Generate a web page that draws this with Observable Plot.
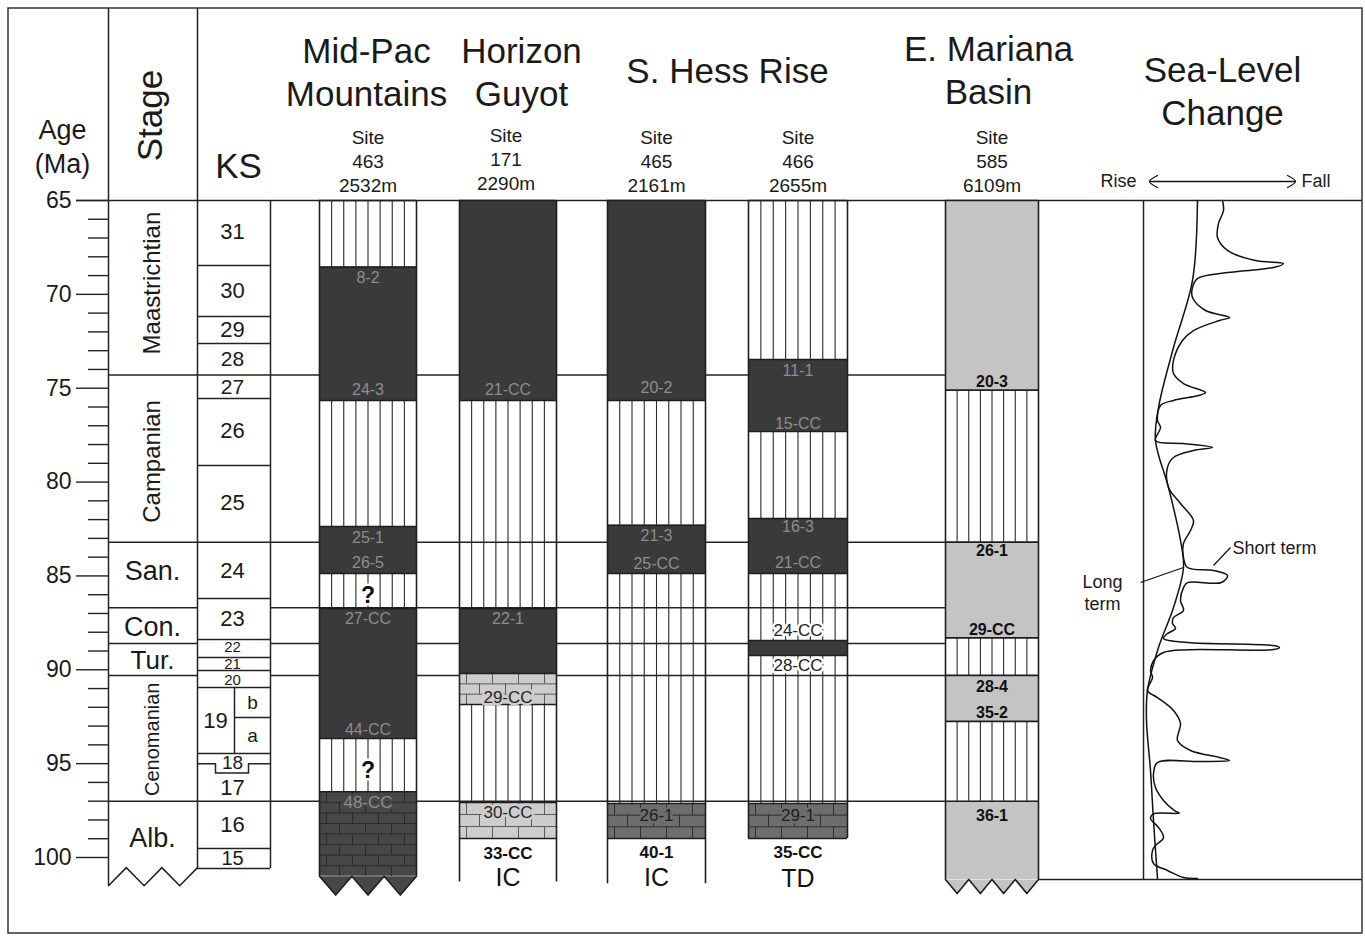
<!DOCTYPE html>
<html><head><meta charset="utf-8">
<script src="https://cdn.jsdelivr.net/npm/d3@7"></script>
<script src="https://cdn.jsdelivr.net/npm/@observablehq/plot@0.6"></script>
<style>
html,body{margin:0;padding:0;background:#fff;}
#chart svg{display:block;}
</style></head>
<body><div id="chart"></div>
<script>
// ================= DATA =================
const ageMajorTicks = [65, 70, 75, 80, 85, 90, 95, 100];
const ageMinorTicks = d3.range(65, 101, 1).filter(a => a % 5 !== 0);

// Stages
const stageNames = ["Maastrichtian", "Campanian", "San.", "Con.", "Tur.", "Cenomanian", "Alb."];
const stageTop   = [65, 74.3, 83.2, 86.7, 88.6, 90.3, 97.0];
const stageLabelAge = [69.4, 78.9, 84.75, 87.75, 89.5, 93.7, 99.0];
const stageRotated  = [true, true, false, false, false, true, false];
const stageFontSize = [24, 24, 27, 27, 26, 20, 27];

// KS nannofossil zones
const ksZones = ["31","30","29","28","27","26","25","24","23","22","21","20","19","18","17","16","15"];
const ksTop   = [65, 68.46, 71.18, 72.62, 74.3, 75.55, 79.12, 83.2, 86.2, 88.39, 89.35, 90.04, 90.94, 94.46, 95.0, 97.0, 99.52];
const ksBase  = 100.59;
const ksLabelAge = [66.7, 69.8, 71.9, 73.45, 74.95, 77.3, 81.1, 84.75, 87.3, 88.8, 89.68, 90.56, 92.7, 94.98, 96.3, 98.25, 100.05];
const ksFont  = [22, 22, 22, 21, 21, 22, 22, 22, 22, 15, 15, 15, 22, 19, 22, 22, 20];
const ks19Sub = ["b", "a"];
const ks19SubTop = [90.94, 92.54];
const ks19SubBase = [92.54, 94.46];
const ks18NotchBase = 95.5;

// Sites
const sites = ["463", "171", "465", "466", "585"];
const siteDepth = ["2532m", "2290m", "2161m", "2655m", "6109m"];
const regionNames = ["Mid-Pac\nMountains", "Horizon\nGuyot", "S. Hess Rise", "E. Mariana\nBasin"];

// Lithologic units: [top age, base age, lithology]
const site463 = [[65, 68.55, "chalk"], [68.55, 75.65, "dark"], [75.65, 82.37, "chalk"], [82.37, 84.87, "dark"],
                 [84.87, 86.74, "chalk"], [86.74, 93.66, "dark"], [93.66, 96.5, "chalk"], [96.5, 101.0, "blackLime"]];
const site171 = [[65, 75.65, "dark"], [75.65, 86.74, "chalk"], [86.74, 90.2, "dark"], [90.2, 91.85, "lime"],
                 [91.85, 97.07, "chalk"], [97.07, 98.99, "lime"], [98.99, 101.3, "hole"]];
const site465 = [[65, 75.65, "dark"], [75.65, 82.3, "chalk"], [82.3, 84.87, "dark"], [84.87, 97.12, "chalk"],
                 [97.12, 98.99, "darkLime"], [98.99, 101.4, "hole"]];
const site466 = [[65, 73.47, "chalk"], [73.47, 77.3, "dark"], [77.3, 81.94, "chalk"], [81.94, 84.87, "dark"],
                 [84.87, 88.44, "chalk"], [88.44, 89.24, "dark"], [89.24, 97.12, "chalk"], [97.12, 98.99, "darkLime"]];
const site585 = [[65, 75.1, "gray"], [75.1, 83.2, "chalk"], [83.2, 88.3, "gray"], [88.3, 90.3, "chalk"],
                 [90.3, 92.75, "gray"], [92.75, 97.0, "chalk"], [97.0, 101.17, "gray"]];

// Sample labels: [age, text, style]
const labels463 = [[69.1, "8-2", "dk"], [75.1, "24-3", "dk"], [82.95, "25-1", "dk"], [84.3, "26-5", "dk"], [86.05, "?", "q"],
                   [87.27, "27-CC", "dk"], [93.18, "44-CC", "dk"], [95.37, "?", "q"], [97.07, "48-CC", "bl"]];
const labels171 = [[75.1, "21-CC", "dk"], [87.27, "22-1", "dk"], [91.5, "29-CC", "ll"], [97.6, "30-CC", "ll"],
                   [99.8, "33-CC", "b"], [101.1, "IC", "big"]];
const labels465 = [[75.0, "20-2", "dk"], [82.85, "21-3", "dk"], [84.34, "25-CC", "dk"], [97.76, "26-1", "dl"],
                   [99.75, "40-1", "b"], [101.1, "IC", "big"]];
const labels466 = [[74.06, "11-1", "dk"], [76.9, "15-CC", "dk"], [82.4, "16-3", "dk"], [84.3, "21-CC", "dk"],
                   [87.9, "24-CC", "w"], [89.77, "28-CC", "w"], [97.76, "29-1", "dl"], [99.75, "35-CC", "b"], [101.15, "TD", "big"]];
const labels585 = [[74.65, "20-3", "g"], [83.65, "26-1", "g"], [87.9, "29-CC", "g"], [90.9, "28-4", "g"],
                   [92.3, "35-2", "g"], [97.76, "36-1", "g"]];

// Sea-level change curves: [age (Ma), fall amount (relative units)]
const shortTerm = [[65.00,79],[65.53,80],[66.23,75],[66.97,74],[67.66,84],[68.20,112],[68.36,140],[68.57,130],[68.84,84],
  [69.16,54],[69.63,49],[70.17,49],[70.86,62],[71.23,86],[71.39,76],[71.93,50],[72.46,39],[73.52,30],[74.22,30],
  [74.75,40],[75.23,62],[75.39,55],[75.65,30],[75.92,17],[76.72,14],[77.09,17],[77.79,12],[77.95,40],[78.16,69],
  [78.32,50],[78.69,30],[79.22,24],[80.29,25],[81.14,37],[82.05,50],[82.58,47],[83.27,40],[84.02,40],[84.55,44],
  [84.71,70],[84.98,84],[85.35,78],[85.36,44],[85.62,40],[86.31,37],[86.84,40],[87.22,30],[87.53,29],[87.80,32],
  [88.07,24],[88.33,20],[88.55,44],[88.71,130],[88.81,136],[88.92,130],[88.93,44],[89.08,20],[89.51,10],[90.04,7],
  [90.41,9],[91.10,4],[91.48,14],[92.17,30],[92.86,37],[93.77,34],[94.30,47],[94.67,76],[94.83,86],[94.89,57],
  [94.94,14],[95.53,10],[96.27,12],[96.96,20],[97.50,31],[97.64,36],[97.68,10],[97.92,7],[98.40,15],[98.94,20],
  [99.36,12],[99.63,9],[100.32,10],[100.69,24],[101.07,40],[101.12,54]];
const longTerm = [[65.0,54],[69.26,49],[72.83,30],[76.03,15],[77.79,12],[80.29,25],[83.11,37],[84.55,40],
  [86.68,30],[88.81,15],[91.10,4],[92.70,3],[95.37,7],[98.03,10],[101.12,14]];

// ================= LAYOUT (pixels) =================
const K = (857 - 200) / 35;                // px per Ma
const py = p => 65 + (p - 200) / K;        // pixel row -> age value on y scale
const FONT = "'Liberation Sans', Arial, Helvetica, sans-serif";
const frame = {x1: 8, x2: 1362, top: 8, bottom: 933};
const stageX = [108, 197], ksX = [197, 270], ksSubX = 234, ksNotchX = [215, 248];
const colX = {"463": [319, 416], "171": [459, 556], "465": [607, 705], "466": [748, 847], "585": [945, 1038]};
const siteUnits = {"463": site463, "171": site171, "465": site465, "466": site466, "585": site585};
const siteLabels = {"463": labels463, "171": labels171, "465": labels465, "466": labels466, "585": labels585};
const zigzag = {"463": {teeth: 3, depth: 1.0}, "585": {teeth: 4, depth: 0.75}};
const regionX = [366, 521, 727, 988];
const regionY = [70, 70, 68, 68];
const siteHeaderY = [160, 158, 160, 160, 160];
const seaAxisX = 1143, seaBottom = 101.17;
const arrowY = 181, arrowX = [1149, 1295], headW = 8, headH = 6;

const lithFill = {dark: "#3a3a3a", gray: "#c4c4c4", lime: "#cdcdcd", darkLime: "#6d6d6d", blackLime: "#474747"};
const brickStroke = {lime: "#5a5a5a", darkLime: "#2e2e2e", blackLime: "#2a2a2a"};
const labelStyle = {
  dk:  {fill: "#8d8d8d", fontSize: 16},
  bl:  {fill: "#8d8d8d", fontSize: 17, halo: "#474747"},
  ll:  {fill: "#262626", fontSize: 17, halo: "#cdcdcd"},
  dl:  {fill: "#1e1e1e", fontSize: 17, halo: "#6d6d6d"},
  b:   {fill: "#111", fontSize: 17, fontWeight: "bold"},
  big: {fill: "#111", fontSize: 25},
  g:   {fill: "#111", fontSize: 16, fontWeight: "bold"},
  w:   {fill: "#222", fontSize: 17, halo: "#fff"},
  q:   {fill: "#111", fontSize: 23, fontWeight: "bold", halo: "#fff"}
};

// ================= DERIVED TABLES =================
const units = sites.flatMap(s => siteUnits[s].map(([t, b, l], i, arr) =>
  ({site: s, x1: colX[s][0], x2: colX[s][1], y1: t, y2: b, lith: l, last: i === arr.length - 1, next: arr[i + 1]})));
const fills = units.filter(d => lithFill[d.lith]);
const chalkLines = units.filter(d => d.lith === "chalk")
  .flatMap(d => d3.range(1, 8).map(i => ({x: d.x1 + (d.x2 - d.x1) * i / 8, y1: d.y1, y2: d.y2})));
const brickRows = [], brickJoints = [];
units.filter(d => brickStroke[d.lith]).forEach(d => {
  const n = Math.max(2, Math.round((d.y2 - d.y1) / 0.55));
  const h = (d.y2 - d.y1) / n, w = 26;
  for (let i = 0; i < n; i++) {
    const t = d.y1 + i * h;
    if (i > 0) brickRows.push({y: t, x1: d.x1, x2: d.x2, s: brickStroke[d.lith]});
    for (let x = d.x1 + (i % 2 ? 20 : 7); x < d.x2 - 3; x += w) brickJoints.push({x, y1: t, y2: t + h, s: brickStroke[d.lith]});
  }
});
const unitTops = units.filter(d => d.lith !== "hole").map(d => ({y: d.y1, x1: d.x1, x2: d.x2}));
const unitBottoms = units.filter(d => d.lith !== "hole" && ((d.next && d.next[2] === "hole") || (d.last && !zigzag[d.site])))
  .map(d => ({y: d.y2, x1: d.x1, x2: d.x2}));
const sides = sites.flatMap(s => {
  const u = siteUnits[s], bottom = u[u.length - 1][1];
  return colX[s].map(x => ({x, y1: 65, y2: bottom}));
});
const zigPts = Object.entries(zigzag).flatMap(([s, z]) => {
  const [x0, x1] = colX[s], u = siteUnits[s], base = u[u.length - 1][1], w = (x1 - x0) / z.teeth;
  const pts = [{id: s, x: x0, y: base}];
  for (let i = 0; i < z.teeth; i++) {
    pts.push({id: s, x: x0 + (i + 0.5) * w, y: base + z.depth});
    pts.push({id: s, x: x0 + (i + 1) * w, y: base});
  }
  return pts;
});
const stageZig = d3.range(6).map(i => ({x: stageX[0] + (stageX[1] - stageX[0]) * i / 5, y: i % 2 ? ksBase - 0.05 : 101.5}));
const longLines = stageTop.slice(1).flatMap(a => [{y: a, x1: stageX[0], x2: stageX[1]}, {y: a, x1: ksX[1], x2: colX["585"][0]}]);
const ksLines = ksTop.map((t, i) => ({t, i})).filter(d => d.i > 0 && ksZones[d.i] !== "17").map(d => ({y: d.t, x1: ksX[0], x2: ksX[1]}));
const notch = [
  {x: ksX[0], y: ksTop[14]}, {x: ksNotchX[0], y: ksTop[14]}, {x: ksNotchX[0], y: ks18NotchBase},
  {x: ksNotchX[1], y: ks18NotchBase}, {x: ksNotchX[1], y: ksTop[14]}, {x: ksX[1], y: ksTop[14]}];
const ksText = ksZones.map((z, i) => ({z, y: ksLabelAge[i], f: ksFont[i], x: z === "19" ? 215 : 232}));
const labelRows = sites.flatMap(s => siteLabels[s].map(([a, t, st]) => ({x: (colX[s][0] + colX[s][1]) / 2, y: a, t, st})));
const arrowHeads = [
  {id: 0, x: arrowX[0] + headW, y: py(arrowY - headH)}, {id: 0, x: arrowX[0], y: py(arrowY)}, {id: 0, x: arrowX[0] + headW, y: py(arrowY + headH)},
  {id: 1, x: arrowX[1] - headW, y: py(arrowY - headH)}, {id: 1, x: arrowX[1], y: py(arrowY)}, {id: 1, x: arrowX[1] - headW, y: py(arrowY + headH)}];

const labelMarks = Object.entries(labelStyle).map(([k, st]) => Plot.text(labelRows.filter(d => d.st === k), {
  x: "x", y: "y", text: "t", fill: st.fill, fontSize: st.fontSize, fontWeight: st.fontWeight || "normal",
  stroke: st.halo || "none", strokeWidth: st.halo ? 5 : 0, paintOrder: "stroke"
}));

const TXT = {fill: "#1a1a1a", fontFamily: FONT};

const chart = Plot.plot({
  width: 1365, height: 936, margin: 0,
  x: {domain: [0, 1365], range: [0, 1365], axis: null},
  y: {domain: [65, 100], range: [200, 857], axis: null},
  style: {fontFamily: FONT, background: "#fff", color: "#1a1a1a"},
  marks: [
    // outer frame
    Plot.rect([0], {x1: frame.x1, x2: frame.x2, y1: py(frame.top), y2: py(frame.bottom), fill: "none", stroke: "#333", strokeWidth: 1.5}),
    // header baseline
    Plot.ruleY([65], {x1: 76, x2: frame.x2, stroke: "#222", strokeWidth: 1.5}),
    // age ticks
    Plot.ruleY(ageMajorTicks, {x1: 76, x2: stageX[0], stroke: "#222", strokeWidth: 1.4}),
    Plot.ruleY(ageMinorTicks, {x1: 88, x2: stageX[0], stroke: "#222", strokeWidth: 1.4}),
    Plot.text(ageMajorTicks, {x: 71, y: d => d, text: d => String(d), textAnchor: "end", fontSize: 23, ...TXT}),
    // stage & KS column frames
    Plot.ruleX([stageX[0]], {y1: py(frame.top), y2: 101.5, stroke: "#222", strokeWidth: 1.5}),
    Plot.ruleX([ksX[0]], {y1: py(frame.top), y2: ksBase, stroke: "#222", strokeWidth: 1.5}),
    Plot.ruleX([ksX[1]], {y1: 65, y2: ksBase, stroke: "#222", strokeWidth: 1.5}),
    Plot.line(stageZig, {x: "x", y: "y", stroke: "#222", strokeWidth: 1.5}),
    // long stage-boundary lines
    Plot.ruleY(longLines, {y: "y", x1: "x1", x2: "x2", stroke: "#222", strokeWidth: 1.5}),
    // KS boxes
    Plot.ruleY(ksLines, {y: "y", x1: "x1", x2: "x2", stroke: "#222", strokeWidth: 1.5}),
    Plot.ruleY([ksBase], {x1: ksX[0], x2: ksX[1], stroke: "#222", strokeWidth: 1.5}),
    Plot.line(notch, {x: "x", y: "y", stroke: "#222", strokeWidth: 1.5}),
    Plot.ruleX([ksSubX], {y1: ks19SubTop[0], y2: ks19SubBase[1], stroke: "#222", strokeWidth: 1.5}),
    Plot.ruleY([ks19SubTop[1]], {x1: ksSubX, x2: ksX[1], stroke: "#222", strokeWidth: 1.5}),
    Plot.text(ksText, {x: "x", y: "y", text: "z", fontSize: "f", ...TXT}),
    Plot.text(ks19Sub, {x: 252, y: (d, i) => (ks19SubTop[i] + ks19SubBase[i]) / 2, text: d => d, fontSize: 19, ...TXT}),
    // stage labels
    Plot.text(stageNames.filter((d, i) => !stageRotated[i]), {x: 152, y: d => stageLabelAge[stageNames.indexOf(d)],
      text: d => d, fontSize: d => stageFontSize[stageNames.indexOf(d)], ...TXT}),
    Plot.text(stageNames.filter((d, i) => stageRotated[i]), {x: 152, y: d => stageLabelAge[stageNames.indexOf(d)],
      text: d => d, rotate: -90, fontSize: d => stageFontSize[stageNames.indexOf(d)], ...TXT}),
    // site columns
    Plot.rect(fills, {x1: "x1", x2: "x2", y1: "y1", y2: "y2", fill: d => lithFill[d.lith]}),
    Plot.line(zigPts, {x: "x", y: "y", z: "id", fill: d => lithFill[siteUnits[d.id][siteUnits[d.id].length - 1][2]], stroke: "none"}),
    Plot.ruleX(chalkLines, {x: "x", y1: "y1", y2: "y2", stroke: "#2a2a2a", strokeWidth: 1.1}),
    Plot.ruleY(brickRows, {y: "y", x1: "x1", x2: "x2", stroke: "s", strokeWidth: 1}),
    Plot.ruleX(brickJoints, {x: "x", y1: "y1", y2: "y2", stroke: "s", strokeWidth: 1}),
    Plot.ruleY(unitTops, {y: "y", x1: "x1", x2: "x2", stroke: "#1e1e1e", strokeWidth: 1.6}),
    Plot.ruleY(unitBottoms, {y: "y", x1: "x1", x2: "x2", stroke: "#1e1e1e", strokeWidth: 1.6}),
    Plot.ruleX(sides, {x: "x", y1: "y1", y2: "y2", stroke: "#1e1e1e", strokeWidth: 1.6}),
    Plot.line(zigPts, {x: "x", y: "y", z: "id", stroke: "#1e1e1e", strokeWidth: 1.6}),
    ...labelMarks,
    // sea-level panel
    Plot.ruleX([seaAxisX], {y1: 65, y2: seaBottom, stroke: "#222", strokeWidth: 1.5}),
    Plot.ruleY([seaBottom], {x1: colX["585"][1], x2: frame.x2, stroke: "#222", strokeWidth: 1.5}),
    Plot.line(longTerm, {x: d => seaAxisX + d[1], y: d => d[0], curve: "catmull-rom", stroke: "#111", strokeWidth: 1.5}),
    Plot.line(shortTerm, {x: d => seaAxisX + d[1], y: d => d[0], curve: "catmull-rom", stroke: "#111", strokeWidth: 1.5}),
    Plot.link([0], {x1: 1213, y1: py(565), x2: 1230, y2: py(547), stroke: "#111", strokeWidth: 1.2}),
    Plot.link([0], {x1: 1140, y1: py(582), x2: 1183, y2: py(567), stroke: "#111", strokeWidth: 1.2}),
    Plot.text(["Short term"], {x: 1232, y: py(548), text: d => d, textAnchor: "start", fontSize: 18, ...TXT}),
    Plot.text(["Long\nterm"], {x: 1102, y: py(591), text: d => d, fontSize: 18, lineHeight: 1.22, ...TXT}),
    // header texts
    Plot.text(["Age\n(Ma)"], {x: 62, y: py(145), text: d => d, fontSize: 27, lineHeight: 1.26, ...TXT}),
    Plot.text(["Stage"], {x: 150, y: py(115), text: d => d, fontSize: 35, rotate: -90, ...TXT}),
    Plot.text(["KS"], {x: 238, y: py(166), text: d => d, fontSize: 35, ...TXT}),
    Plot.text(regionNames, {x: (d, i) => regionX[i], y: (d, i) => py(regionY[i]), text: d => d, fontSize: 35, lineHeight: 1.25, ...TXT}),
    Plot.text(sites, {x: s => (colX[s][0] + colX[s][1]) / 2 + (s === "171" ? -2 : 0), y: (d, i) => py(siteHeaderY[i]),
      text: (s, i) => `Site\n${s}\n${siteDepth[i]}`, fontSize: 19, lineHeight: 1.26, ...TXT}),
    Plot.text(["Sea-Level\nChange"], {x: 1222, y: py(89), text: d => d, fontSize: 35, lineHeight: 1.22, ...TXT}),
    Plot.text(["Rise"], {x: 1136, y: py(arrowY), text: d => d, textAnchor: "end", fontSize: 18, ...TXT}),
    Plot.text(["Fall"], {x: 1301, y: py(arrowY), text: d => d, textAnchor: "start", fontSize: 18, ...TXT}),
    Plot.ruleY([py(arrowY)], {x1: arrowX[0], x2: arrowX[1], stroke: "#111", strokeWidth: 1.3}),
    Plot.line(arrowHeads, {x: "x", y: "y", z: "id", stroke: "#111", strokeWidth: 1.3, curve: "catmull-rom"})
  ]
});
document.getElementById("chart").appendChild(chart);
</script>
</body></html>
